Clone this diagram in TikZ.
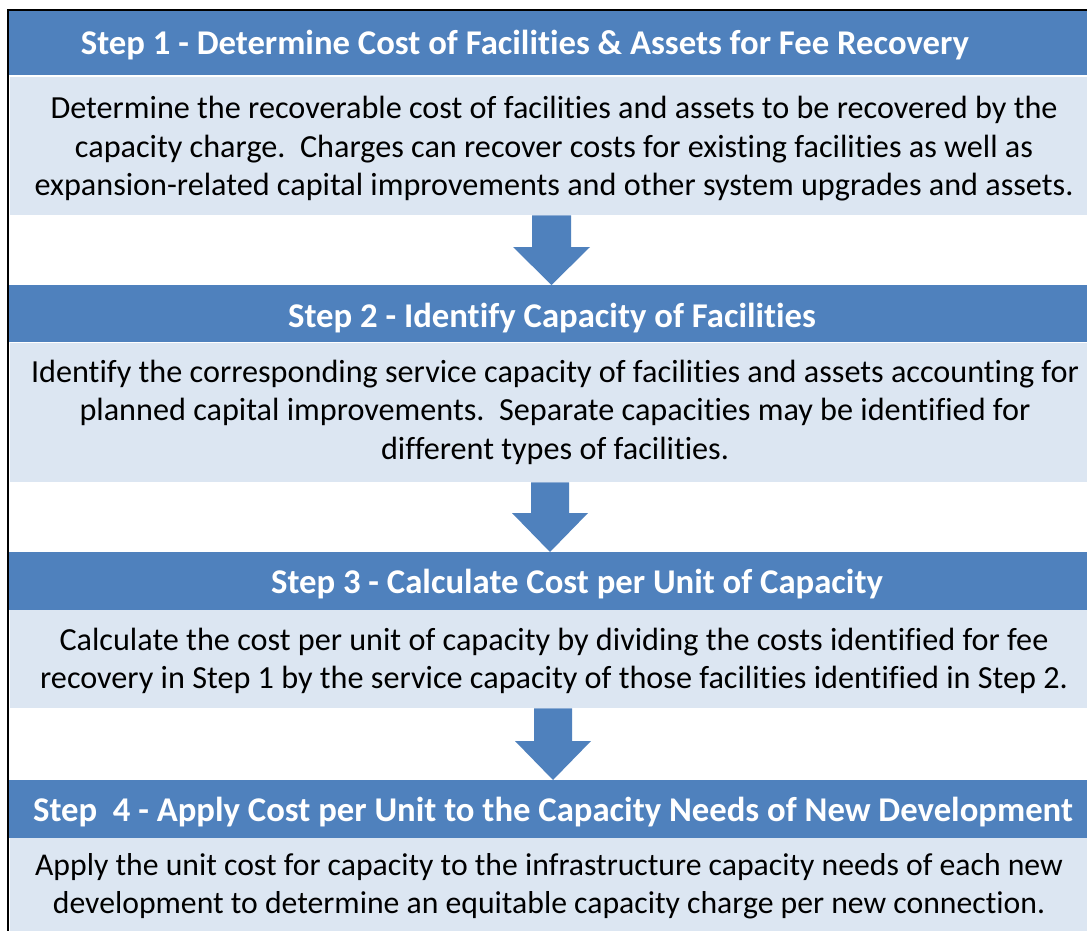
\documentclass[tikz,border=0pt]{standalone}
\usepackage{fontspec}
\setmainfont[Ligatures={NoCommon}]{Carlito}
\usetikzlibrary{calc}
\definecolor{hdrblue}{HTML}{4F81BD}
\definecolor{bodyblue}{HTML}{DCE6F2}
\tikzset{
  hdrbox/.style={fill=hdrblue, draw=none, anchor=north west, inner sep=0pt, minimum width=1078pt},
  bodybox/.style={fill=bodyblue, draw=none, anchor=north west, inner sep=0pt, minimum width=1077pt},
  hdrtext/.style={text=white, font=\fontsize{34.7}{40}\selectfont\bfseries, inner sep=0pt, anchor=center},
  bodytext/.style={text=black, font=\fontsize{32.2}{38.5}\selectfont, inner sep=0pt, align=center, anchor=center},
  blockarrow/.style={fill=hdrblue, draw=none}
}
\begin{document}
\begin{tikzpicture}[x=1pt,y=-1pt]
\useasboundingbox (0,0) rectangle (1087,931);
\fill[white] (0,0) rectangle (1087,931);
% boxes
\node[hdrbox, minimum height=64pt] (h1) at (9,11) {};
\node[bodybox, minimum height=138pt] (b1) at (10,77) {};
\node[hdrbox, minimum height=57pt] (h2) at (9,285) {};
\node[bodybox, minimum height=139pt] (b2) at (10,343) {};
\node[hdrbox, minimum height=58pt] (h3) at (9,552) {};
\node[bodybox, minimum height=98pt] (b3) at (10,610) {};
\node[hdrbox, minimum height=58pt] (h4) at (9,780) {};
\node[bodybox, minimum height=93pt] (b4) at (10,838) {};
% texts
\node[hdrtext] (t1) at (525,45) {Step 1 - Determine Cost of Facilities \& Assets for Fee Recovery};
\node[bodytext] (d1) at (554,149) {Determine the recoverable cost of facilities and assets to be recovered by the\\capacity charge.\ \ Charges can recover costs for existing facilities as well as\\expansion-related capital improvements and other system upgrades and assets.};
\node[hdrtext] (t2) at (552,318) {Step 2 - Identify Capacity of Facilities};
\node[bodytext] (d2) at (555,412) {Identify the corresponding service capacity of facilities and assets accounting for\\planned capital improvements.\ \ Separate capacities may be identified for\\different types of facilities.};
\node[hdrtext] (t3) at (577,584) {Step 3 - Calculate Cost per Unit of Capacity};
\node[bodytext] (d3) at (554,661) {Calculate the cost per unit of capacity by dividing the costs identified for fee\\recovery in Step 1 by the service capacity of those facilities identified in Step 2.};
\node[bodytext, font=\fontsize{31.7}{38}\selectfont] (d4) at (549,886) {Apply the unit cost for capacity to the infrastructure capacity needs of each new\\development to determine an equitable capacity charge per new connection.};
\node[hdrtext] (t4) at (553,812) {Step\ \ 4 - Apply Cost per Unit to the Capacity Needs of New Development};
% arrows
\coordinate (a1s) at ($(b1.south west)+(541.5,0)$);
\coordinate (a1e) at ($(h2.north west)+(542.5,0)$);
\fill[blockarrow] ($(a1s)+(-19.5,0)$) -- ($(a1s)+(19.5,0)$) -- ($(a1e)+(19.5,-38)$) -- ($(a1e)+(38.5,-38)$) -- (a1e) -- ($(a1e)+(-38.5,-38)$) -- ($(a1e)+(-19.5,-38)$) -- cycle;
\coordinate (a2s) at ($(b2.south west)+(540,0)$);
\coordinate (a2e) at ($(h3.north west)+(541,0)$);
\fill[blockarrow] ($(a2s)+(-19,0)$) -- ($(a2s)+(19,0)$) -- ($(a2e)+(19,-39)$) -- ($(a2e)+(38,-39)$) -- (a2e) -- ($(a2e)+(-38,-39)$) -- ($(a2e)+(-19,-39)$) -- cycle;
\coordinate (a3s) at ($(b3.south west)+(543,0)$);
\coordinate (a3e) at ($(h4.north west)+(544,0)$);
\fill[blockarrow] ($(a3s)+(-19,0)$) -- ($(a3s)+(19,0)$) -- ($(a3e)+(19,-39)$) -- ($(a3e)+(38,-39)$) -- (a3e) -- ($(a3e)+(-38,-39)$) -- ($(a3e)+(-19,-39)$) -- cycle;
% frame
\draw[line width=2.2pt, black] (8,931) -- (8,10) -- (1087,10);
\end{tikzpicture}
\end{document}
